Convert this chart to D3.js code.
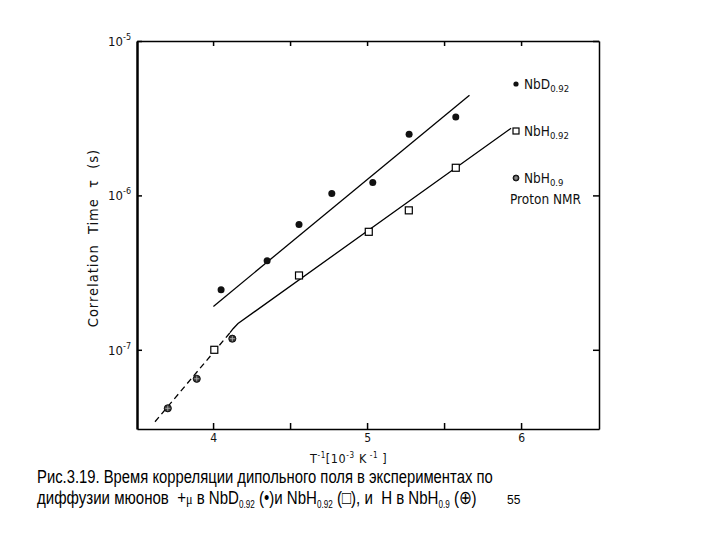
<!DOCTYPE html>
<html><head><meta charset="utf-8">
<script src="https://cdn.jsdelivr.net/npm/d3@7"></script>
<style>body{margin:0;background:#fff} text{white-space:pre}</style>
</head><body>
<svg id="c" width="720" height="540" xmlns="http://www.w3.org/2000/svg"></svg>
<script>
// ---- data ----
const nbdX   = [4.052, 4.351, 4.558, 4.771, 5.037, 5.273, 5.576];
const nbdTau = [2.45e-7, 3.78e-7, 6.49e-7, 1.03e-6, 1.21e-6, 2.49e-6, 3.22e-6];
const nbhX   = [4.008, 4.558, 5.011, 5.271, 5.576];
const nbhTau = [1.0e-7, 3.03e-7, 5.81e-7, 8.0e-7, 1.51e-6];
const nbh09X   = [3.706, 3.894, 4.125];
const nbh09Tau = [4.18e-8, 6.49e-8, 1.18e-7];
// fitted lines
const nbdFitX   = [4.002, 5.665];
const nbdFitTau = [1.91e-7, 4.46e-6];
const nbhFitX   = [4.110, 4.130, 4.162, 5.935];
const nbhFitTau = [1.29e-7, 1.37e-7, 1.48e-7, 2.72e-6];
const dashFitX   = [3.623, 4.110];
const dashFitTau = [3.42e-8, 1.29e-7];
// axes
const xTicks = [4, 4.5, 5, 5.5, 6];
const xTickLabels = {4: "4", 5: "5", 6: "6"};
const yTicks = [1e-7, 1e-6, 1e-5];
const yTickExp = ["-7", "-6", "-5"];
const legendNames = [["NbD", "0.92"], ["NbH", "0.92"], ["NbH", "0.9"]];

const svg = d3.select("#c");
const x = d3.scaleLinear().domain([3.506, 6.506]).range([137, 599]);
const y = d3.scaleLog().domain([Math.pow(10, -7.513), 1e-5]).range([429, 41]);
const plotFont = "'Liberation Sans Narrow','DejaVu Sans Condensed','Liberation Sans',sans-serif";

// axes
const gB = svg.append("g").attr("transform", "translate(0,429)")
  .call(d3.axisBottom(x).tickValues(xTicks).tickSizeInner(-6).tickSizeOuter(0).tickPadding(4)
    .tickFormat(d => xTickLabels[d] || ""));
const gT = svg.append("g").attr("transform", "translate(0,41)")
  .call(d3.axisTop(x).tickValues(xTicks).tickSizeInner(-5).tickSizeOuter(0).tickFormat(""));
const gL = svg.append("g").attr("transform", "translate(137,0)")
  .call(d3.axisLeft(y).tickValues(yTicks).tickSizeInner(-5).tickSizeOuter(0).tickFormat(""));
const gR = svg.append("g").attr("transform", "translate(599,0)")
  .call(d3.axisRight(y).tickValues(yTicks).tickSizeInner(-6).tickSizeOuter(0).tickFormat(""));
[gB, gT, gL, gR].forEach(g => {
  g.selectAll("path.domain").attr("stroke", "#000").attr("stroke-width", 1.5);
  g.selectAll(".tick line").attr("stroke", "#000").attr("stroke-width", 1.5);
});
gL.select("path.domain").attr("stroke-width", 2.5);
gB.selectAll(".tick text").attr("font-family", plotFont).attr("font-size", 12).attr("fill", "#111");

// y tick labels 10^n
yTicks.forEach((t, i) => {
  svg.append("text").attr("x", 123).attr("y", y(t) + 5)
    .attr("text-anchor", "end").attr("font-family", plotFont).attr("font-size", 13).attr("fill", "#111").text("10");
  svg.append("text").attr("x", 123).attr("y", y(t) - 1)
    .attr("font-family", plotFont).attr("font-size", 9).attr("fill", "#111").text(yTickExp[i]);
});

// axis titles
svg.append("text").attr("transform", "translate(98,238) rotate(-90)")
  .attr("text-anchor", "middle").attr("font-family", plotFont).attr("font-size", 14.5)
  .attr("letter-spacing", 1.0).attr("fill", "#111").text("Correlation  Time  τ  (s)");
const xt = svg.append("text").attr("x", 310).attr("y", 463)
  .attr("font-family", plotFont).attr("font-size", 12.5).attr("letter-spacing", 0.6).attr("fill", "#111");
xt.append("tspan").text("T");
xt.append("tspan").attr("font-size", 8).attr("dy", -5).text("-1");
xt.append("tspan").attr("dy", 5).text("[10");
xt.append("tspan").attr("font-size", 8).attr("dy", -5).text("-3");
xt.append("tspan").attr("dy", 5).text(" K");
xt.append("tspan").attr("font-size", 8).attr("dy", -5).text(" -1");
xt.append("tspan").attr("dy", 5).text(" ]");

// lines
const line = d3.line().x(d => x(d[0])).y(d => y(d[1]));
const zip = (a, b) => a.map((v, i) => [v, b[i]]);
svg.append("path").attr("d", line(zip(nbdFitX, nbdFitTau))).attr("fill", "none").attr("stroke", "#000").attr("stroke-width", 1.3);
svg.append("path").attr("d", line(zip(nbhFitX, nbhFitTau))).attr("fill", "none").attr("stroke", "#000").attr("stroke-width", 1.3);
svg.append("path").attr("d", line(zip(dashFitX, dashFitTau))).attr("fill", "none").attr("stroke", "#000")
  .attr("stroke-width", 1.3).attr("stroke-dasharray", "6,4");

// markers
function dot(g, cx, cy, r) { g.append("circle").attr("cx", cx).attr("cy", cy).attr("r", r).attr("fill", "#111"); }
function square(g, cx, cy, s) {
  g.append("rect").attr("x", cx - s / 2).attr("y", cy - s / 2).attr("width", s).attr("height", s)
    .attr("fill", "#fff").attr("stroke", "#000").attr("stroke-width", 1.2);
}
function oplus(g, cx, cy, r) {
  g.append("circle").attr("cx", cx).attr("cy", cy).attr("r", r).attr("fill", "#333").attr("stroke", "#000").attr("stroke-width", 0.8);
  g.append("path").attr("d", `M${cx - r + 1},${cy}H${cx + r - 1}M${cx},${cy - r + 1}V${cy + r - 1}`)
    .attr("stroke", "#bbb").attr("stroke-width", 0.8);
}
const gm = svg.append("g");
nbdX.forEach((v, i) => dot(gm, x(v), y(nbdTau[i]), 3.5));
nbhX.forEach((v, i) => square(gm, x(v), y(nbhTau[i]), 7));
nbh09X.forEach((v, i) => oplus(gm, x(v), y(nbh09Tau[i]), 3.6));

// legend
const lg = svg.append("g");
const legY = [84, 131, 178];
const markerFns = [(cx, cy) => dot(lg, cx, cy, 2.6), (cx, cy) => square(lg, cx, cy, 6), (cx, cy) => oplus(lg, cx, cy, 3)];
legendNames.forEach((n, i) => {
  markerFns[i](516, legY[i]);
  const t = lg.append("text").attr("x", 524).attr("y", legY[i] + 5)
    .attr("font-family", plotFont).attr("font-size", 13.5).attr("fill", "#111");
  t.append("tspan").text(n[0]);
  t.append("tspan").attr("font-size", 9.5).attr("dy", 3).text(n[1]);
});
lg.append("text").attr("x", 510).attr("y", 204).attr("font-family", plotFont).attr("font-size", 13.5)
  .attr("fill", "#111").text("Proton NMR");

// caption
const capFont = "'Liberation Sans',Arial,sans-serif";
function capLine(parts, px, py, targetW) {
  const t = svg.append("text").attr("font-family", capFont).attr("font-size", 18.5).attr("fill", "#000");
  parts.forEach(p => {
    const s = t.append("tspan").text(p.t);
    if (p.sub) s.attr("font-size", 10).attr("dy", 4);
    if (p.back) s.attr("dy", -4);
    if (p.mu) s.attr("font-family", "'Liberation Serif',serif").attr("font-size", 15);
  });
  const w = t.node().getComputedTextLength();
  t.attr("transform", `translate(${px},${py}) scale(${targetW / w},1)`);
}
capLine([{t: "Рис.3.19. Время корреляции дипольного поля в экспериментах по"}], 37, 483, 456);
capLine([
  {t: "диффузии мюонов  +"}, {t: "μ", mu: true}, {t: " в NbD"}, {t: "0.92", sub: true},
  {t: " (•)и NbH", back: true}, {t: "0.92", sub: true}, {t: " (□), и  H в NbH", back: true},
  {t: "0.9", sub: true}, {t: " (⊕)", back: true}
], 37, 504, 440);
svg.append("text").attr("x", 507).attr("y", 504).attr("font-family", capFont).attr("font-size", 12).text("55");
</script>
</body></html>
